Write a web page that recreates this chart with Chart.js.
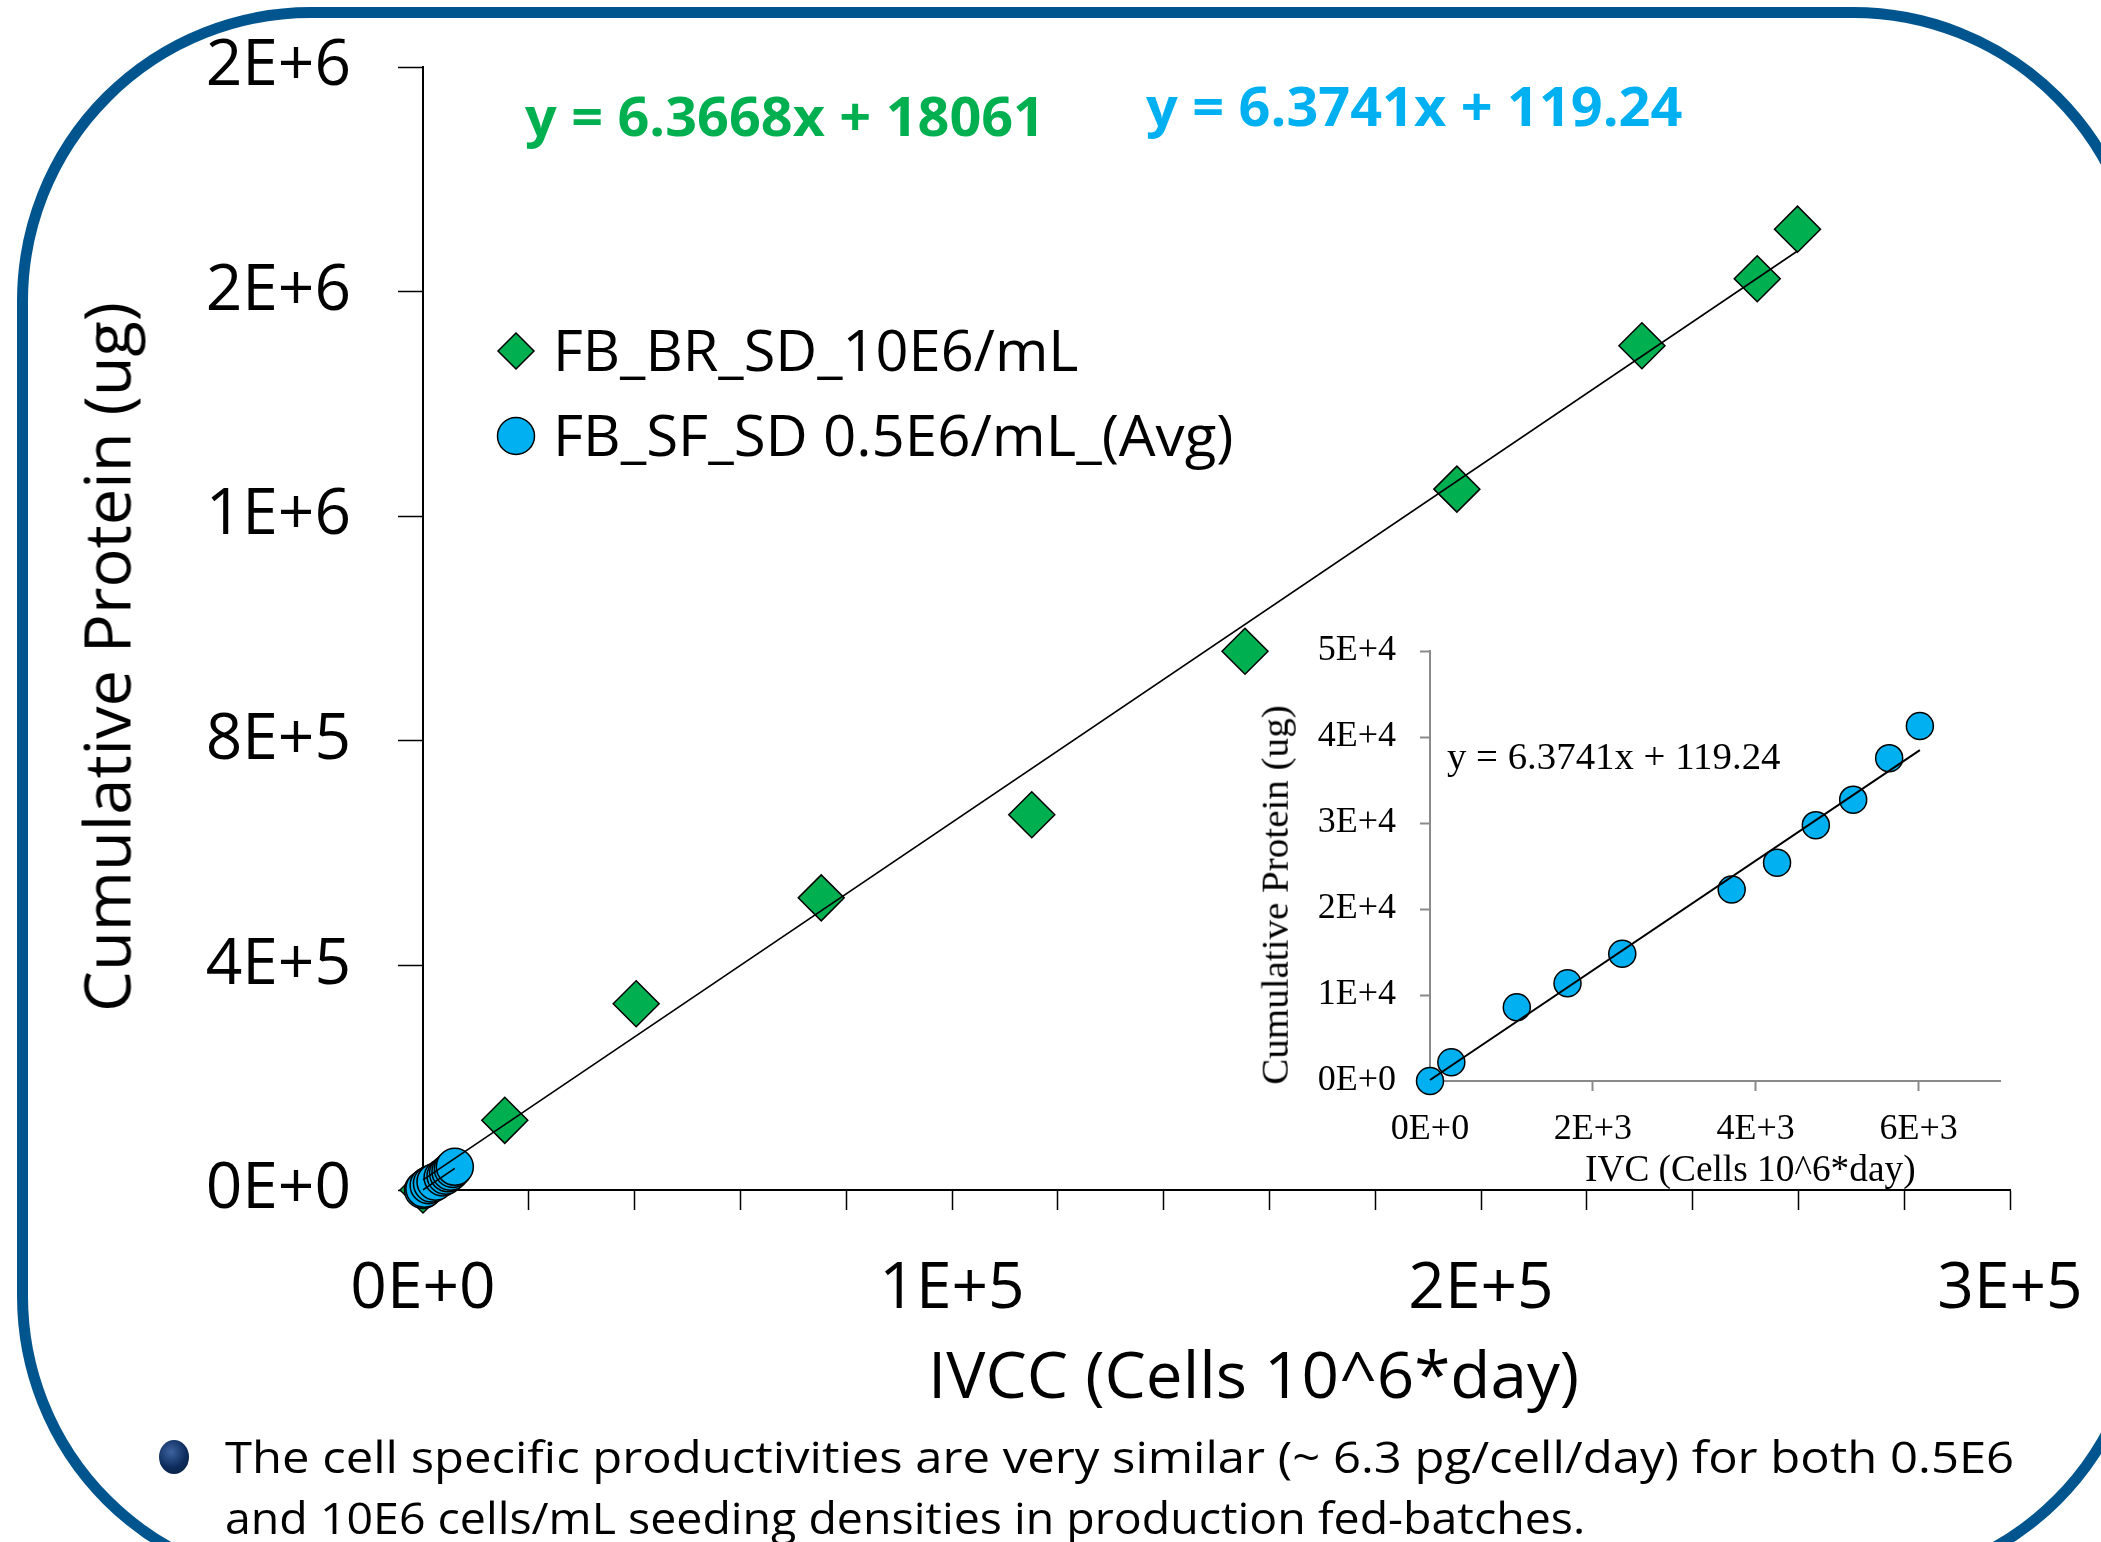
<!DOCTYPE html>
<html>
<head>
<meta charset="utf-8">
<title>Cumulative Protein vs IVCC</title>
<script src="https://cdn.jsdelivr.net/npm/chart.js@4.4.1/dist/chart.umd.min.js"></script>
<style>
  html, body { margin: 0; padding: 0; width: 2101px; height: 1542px; overflow: hidden; background: #fff; }
  #frame {
    position: absolute; left: 17px; top: 7px; width: 2130px; height: 1583px;
    box-sizing: border-box; border: 11px solid #00558E; border-radius: 294px;
  }
  canvas { position: absolute; }
  #main { left: 0; top: 0; }
  #inset { left: 1190px; top: 600px; }
  .t { position: absolute; white-space: nowrap; }
  #bullet {
    position: absolute; left: 159px; top: 1440px; width: 30px; height: 34px; border-radius: 50%;
    background: radial-gradient(circle at 40% 35%, #3d63a0 0%, #0d2c5c 55%, #061a3a 100%);
  }
  .icon { position: absolute; }
</style>
</head>
<body>
<div id="frame"></div>
<canvas id="main" width="2101" height="1542"></canvas>
<canvas id="inset" width="860" height="620"></canvas>
<div id="bullet"></div>
<svg class="icon" style="left:496px;top:331px" width="40" height="40">
  <polygon points="20,2 38,20 20,38 2,20" fill="#00B050" stroke="#000" stroke-width="1.5"/>
</svg>
<svg class="icon" style="left:495px;top:415px" width="42" height="42">
  <circle cx="21" cy="21" r="18.5" fill="#00B0F0" stroke="#000" stroke-width="1.5"/>
</svg>
<script>
// FB_BR_SD_10E6/mL (bioreactor, 10E6 seeding)
const greenIVCC = [0, 15460, 40300, 75280, 115080, 155390, 195440, 230420, 252220, 259830];
const greenProtein = [0, 124100, 331700, 520300, 668300, 959400, 1248200, 1503600, 1622900, 1711200];

// FB_SF_SD 0.5E6/mL (shake flask average)
const blueIVC = [0, 262, 1066, 1689, 2361, 3705, 4262, 4738, 5197, 5639, 6016];
const blueProtein = [0, 2180, 8570, 11370, 14800, 22270, 25390, 29750, 32710, 37540, 41280];

const seriesNames = ['FB_BR_SD_10E6/mL', 'FB_SF_SD 0.5E6/mL_(Avg)'];
const fitSlope = [6.3668, 6.3741];
const fitIntercept = [18061, 119.24];

const mainXTicks = ['0E+0', '1E+5', '2E+5', '3E+5'];
const mainYTicks = ['0E+0', '4E+5', '8E+5', '1E+6', '2E+6', '2E+6'];
const insetXTickValues = [0, 2000, 4000, 6000];
const insetXTicks = ['0E+0', '2E+3', '4E+3', '6E+3'];
const insetYTicks = ['0E+0', '1E+4', '2E+4', '3E+4', '4E+4', '5E+4'];

const GREEN = '#00B050';
const BLUE = '#00B0F0';

function pts(xs, ys) {
  return xs.map((x, i) => ({ x: x, y: ys[i] }));
}
function trend(k, xs) {
  const xmax = Math.max(...xs);
  return [{ x: 0, y: fitIntercept[k] }, { x: xmax, y: fitSlope[k] * xmax + fitIntercept[k] }];
}
function eqText(k) {
  return 'y = ' + fitSlope[k] + 'x + ' + fitIntercept[k];
}
// pin the axis box size and drop the label overhang padding so the plot area lands where we want it
function fixH(h) {
  return (s) => { s.height = h; s.paddingLeft = 0; s.paddingRight = 0; };
}
function fixW(w) {
  return (s) => { s.width = w; s.paddingTop = 0; s.paddingBottom = 0; };
}

function drawCharts() {
  const sans = 'Open Sans';
  const serif = 'Liberation Serif';

  // main chart
  new Chart(document.getElementById('main'), {
    type: 'scatter',
    data: {
      datasets: [
        { label: 'trend ' + seriesNames[0], data: trend(0, greenIVCC), showLine: true, pointRadius: 0,
          borderColor: '#000', borderWidth: 1.6, order: 0, clip: false },
        { label: 'trend ' + seriesNames[1], data: trend(1, blueIVC), showLine: true, pointRadius: 0,
          borderColor: '#000', borderWidth: 1.6, order: 0, clip: false },
        { label: seriesNames[1], data: pts(blueIVC, blueProtein), pointStyle: 'circle', pointRadius: 18.5,
          backgroundColor: BLUE, borderColor: '#000', borderWidth: 1.5, order: 1, clip: false },
        { label: seriesNames[0], data: pts(greenIVCC, greenProtein), pointStyle: 'rectRot', pointRadius: 23,
          backgroundColor: GREEN, borderColor: '#000', borderWidth: 1.5, order: 2, clip: false }
      ]
    },
    options: {
      responsive: false,
      animation: false,
      events: [],
      layout: { padding: { left: 0, top: 67, right: 91, bottom: 0 } },
      plugins: { legend: { display: false }, tooltip: { enabled: false }, title: { display: false } },
      scales: {
        x: {
          type: 'linear', min: 0, max: 300000, bounds: 'data',
          border: { display: true, color: '#000', width: 2 },
          grid: { display: true, drawOnChartArea: false, drawTicks: true, tickLength: 20, tickColor: '#000', tickWidth: 1.5 },
          ticks: {
            stepSize: 20000, maxTicksLimit: 100, autoSkip: false, maxRotation: 0, padding: 41,
            color: '#000', font: { family: sans, size: 64 },
            callback: (v) => (Math.abs(v % 100000) < 1 ? mainXTicks[Math.round(v / 100000)] : '')
          },
          afterFit: fixH(352)
        },
        y: {
          type: 'linear', min: 0, max: 2000000, bounds: 'data',
          border: { display: true, color: '#000', width: 2 },
          grid: { display: true, drawOnChartArea: false, drawTicks: true, tickLength: 25, tickColor: '#000', tickWidth: 1.5 },
          ticks: {
            stepSize: 400000, padding: 47, color: '#000', font: { family: sans, size: 64 },
            callback: (v, i) => mainYTicks[i]
          },
          afterFit: fixW(423)
        }
      }
    }
  });

  // inset chart (shake flask series only)
  new Chart(document.getElementById('inset'), {
    type: 'scatter',
    data: {
      datasets: [
        { label: 'trend ' + seriesNames[1], data: trend(1, blueIVC), showLine: true, pointRadius: 0,
          borderColor: '#000', borderWidth: 2, order: 0, clip: false },
        { label: seriesNames[1], data: pts(blueIVC, blueProtein), pointStyle: 'circle', pointRadius: 13.5,
          backgroundColor: BLUE, borderColor: '#000', borderWidth: 1.5, order: 1, clip: false }
      ]
    },
    options: {
      responsive: false,
      animation: false,
      events: [],
      layout: { padding: { left: 0, top: 51, right: 50, bottom: 0 } },
      plugins: { legend: { display: false }, tooltip: { enabled: false }, title: { display: false } },
      scales: {
        x: {
          type: 'linear', min: 0, max: 7000, bounds: 'data',
          border: { display: true, color: '#8a8a8a', width: 2 },
          grid: { display: true, drawOnChartArea: false, drawTicks: true, tickLength: 10, tickColor: '#8a8a8a', tickWidth: 2 },
          ticks: {
            autoSkip: false, maxRotation: 0, padding: 17,
            color: '#000', font: { family: serif, size: 36 },
            callback: (v, i) => insetXTicks[i]
          },
          // axis runs to 7E+3 but is only labelled every 2E+3
          afterBuildTicks: (s) => { s.ticks = insetXTickValues.map((v) => ({ value: v })); },
          afterFit: fixH(139)
        },
        y: {
          type: 'linear', min: 0, max: 50000, bounds: 'data',
          border: { display: true, color: '#8a8a8a', width: 2 },
          grid: { display: true, drawOnChartArea: false, drawTicks: true, tickLength: 10, tickColor: '#8a8a8a', tickWidth: 2 },
          ticks: {
            stepSize: 10000, padding: 24, color: '#000', font: { family: serif, size: 36 },
            callback: (v, i) => insetYTicks[i]
          },
          afterFit: fixW(240)
        }
      }
    }
  });
}

// free text: axis titles, equations, legend, bullet note
const texts = [
  { text: 'Cumulative Protein (ug)', cx: 106, cy: 657, w: 710, size: 64, family: 'Open Sans', rot: true },
  { text: 'IVCC (Cells 10^6*day)', cx: 1253, cy: 1376, w: 651, size: 64, family: 'Open Sans' },
  { text: eqText(0), x: 525, cy: 117, w: 520, size: 54, family: 'Open Sans', weight: 'bold', color: GREEN },
  { text: eqText(1), x: 1146, cy: 107, w: 536, size: 54, family: 'Open Sans', weight: 'bold', color: BLUE },
  { text: seriesNames[0], x: 553, cy: 351, w: 526, size: 56, family: 'Open Sans' },
  { text: seriesNames[1], x: 553, cy: 436, w: 680, size: 56, family: 'Open Sans' },
  { text: eqText(1), x: 1447, cy: 756, w: 333, size: 38, family: 'Liberation Serif' },
  { text: 'Cumulative Protein (ug)', cx: 1274, cy: 895, w: 379, size: 38, family: 'Liberation Serif', rot: true },
  { text: 'IVC (Cells 10^6*day)', cx: 1750, cy: 1168, w: 331, size: 38, family: 'Liberation Serif' },
  { text: 'The cell specific productivities are very similar (~ 6.3 pg/cell/day) for both 0.5E6', x: 225, cy: 1457, w: 1789, size: 44, family: 'Open Sans' },
  { text: 'and 10E6 cells/mL seeding densities in production fed-batches.', x: 225, cy: 1518, w: 1360, size: 44, family: 'Open Sans' }
];

function placeTexts() {
  texts.forEach((s) => {
    const el = document.createElement('div');
    el.className = 't';
    el.textContent = s.text;
    el.style.fontFamily = '"' + s.family + '"';
    el.style.fontSize = s.size + 'px';
    el.style.fontWeight = s.weight || 'normal';
    el.style.lineHeight = '1';
    el.style.color = s.color || '#000';
    document.body.appendChild(el);
    const nat = el.offsetWidth;
    const sx = s.w ? s.w / nat : 1;
    const k = s.family === 'Liberation Serif' ? 0.507 : 0.531;
    if (s.rot) {
      el.style.left = (s.cx - nat / 2) + 'px';
      el.style.top = (s.cy - s.size / 2) + 'px';
      el.style.transformOrigin = 'center center';
      el.style.transform = 'rotate(-90deg) scaleX(' + sx + ')';
    } else {
      const left = s.cx !== undefined ? s.cx - nat * sx / 2 : s.x;
      el.style.left = left + 'px';
      el.style.top = (s.cy - k * s.size) + 'px';
      el.style.transformOrigin = 'left top';
      el.style.transform = 'scaleX(' + sx + ')';
    }
  });
}

Promise.all([
  document.fonts.load('64px "Open Sans"'),
  document.fonts.load('bold 54px "Open Sans"'),
  document.fonts.load('36px "Liberation Serif"')
]).catch(() => {}).then(() => {
  drawCharts();
  placeTexts();
});
</script>
</body>
</html>
